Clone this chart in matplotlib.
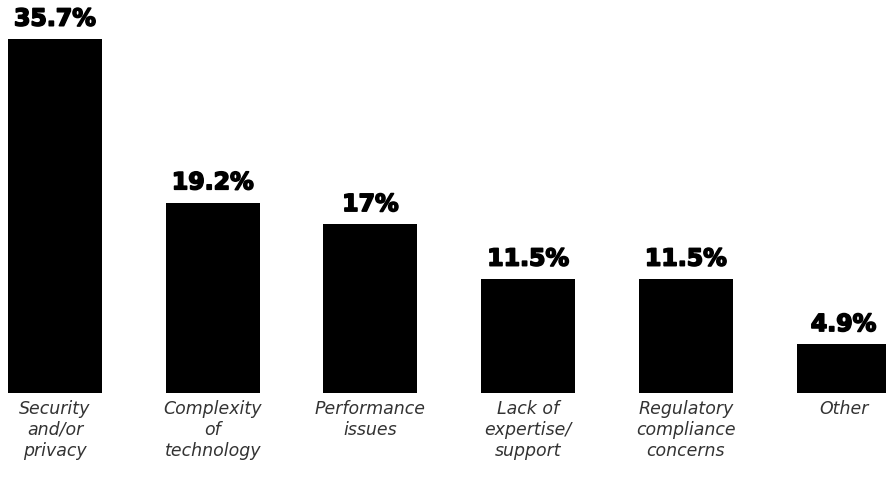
import matplotlib
matplotlib.use("Agg")
import matplotlib.pyplot as plt
import matplotlib.patheffects as pe

categories = [
    "Security\nand/or\nprivacy",
    "Complexity\nof\ntechnology",
    "Performance\nissues",
    "Lack of\nexpertise/\nsupport",
    "Regulatory\ncompliance\nconcerns",
    "Other",
]
values = [35.7, 19.2, 17.0, 11.5, 11.5, 4.9]
value_labels = ["35.7%", "19.2%", "17%", "11.5%", "11.5%", "4.9%"]

W, H, DPI = 886, 479, 100
fig = plt.figure(figsize=(W / DPI, H / DPI), dpi=DPI, facecolor="white")

base_px = 393
ax = fig.add_axes([0, (H - base_px) / H, 1, base_px / H])

x = list(range(len(values)))
step_px = 157.7
left = -55 / step_px
ax.set_xlim(left, left + W / step_px)
ax.set_ylim(0, 35.7 * base_px / 354)

bars = ax.bar(x, values, width=94 / step_px, color="black", linewidth=0)

# heavy value labels: bold face thickened with a thin outline
heavy = [pe.withStroke(linewidth=1.2, foreground="black")]
for rect, lab in zip(bars, value_labels):
    ax.annotate(lab, (rect.get_x() + rect.get_width() / 2, rect.get_height()),
                xytext=(0, 6), textcoords="offset points",
                ha="center", va="bottom", fontsize=17,
                fontweight="bold", family="DejaVu Sans", color="black",
                path_effects=heavy, annotation_clip=False)

ax.set_xticks(x)
ax.set_xticklabels(categories, fontsize=12.5, style="italic",
                   family="DejaVu Sans", color="#333333", linespacing=1.2)
ax.tick_params(axis="x", length=0, pad=5)
ax.set_yticks([])
for s in ax.spines.values():
    s.set_visible(False)

fig.savefig("out.png", dpi=DPI, facecolor="white")
